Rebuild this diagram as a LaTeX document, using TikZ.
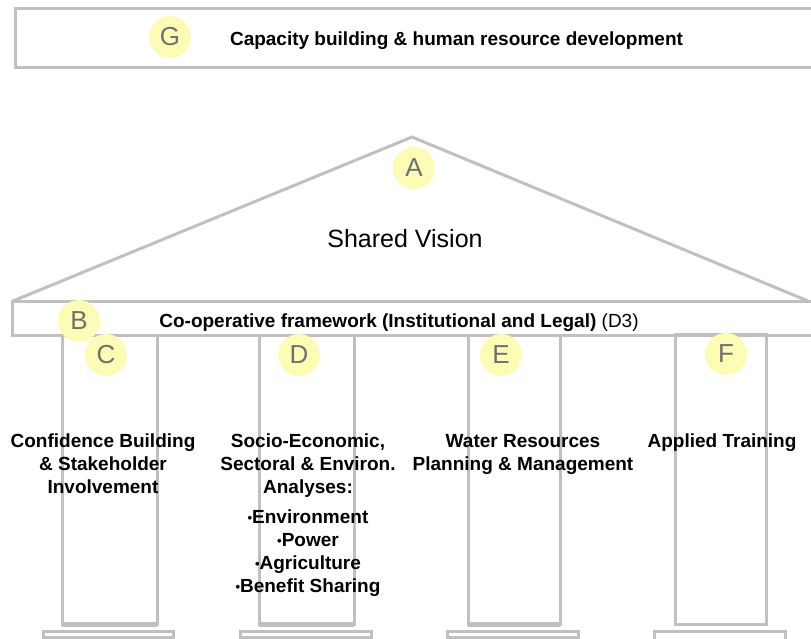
\documentclass[tikz,border=0pt]{standalone}
\usepackage{fontspec}
\setmainfont{Liberation Sans}
\definecolor{linegray}{RGB}{192,192,192}
\definecolor{circfill}{RGB}{252,252,180}
\definecolor{lettergray}{RGB}{112,112,112}
\newcommand{\smbul}{{\fontsize{13}{13}\selectfont\raisebox{1.2pt}{•}}}
\tikzset{
  frame/.style={draw=linegray, line width=3pt},
  band/.style={draw=linegray, line width=5pt},
  badge/.style={circle, fill=circfill, minimum size=42pt, inner sep=0pt, text=lettergray, font=\fontsize{26}{26}\selectfont},
  lbl/.style={font=\bfseries\fontsize{19}{23}\selectfont, align=center, inner sep=0pt, anchor=north},
  onelbl/.style={font=\bfseries\fontsize{19}{23}\selectfont, inner sep=0pt, anchor=base},
}
\begin{document}
\begin{tikzpicture}[x=1pt,y=-1pt]
\useasboundingbox (0,0) rectangle (811,638);
\begin{scope}
\clip (0,0) rectangle (811,638);
% top box G
\draw[frame] (15.5,8.5) rectangle (830,67.5);
% roof
\draw[frame, line join=miter] (13,301) -- (412,137) -- (808,301);
% beam
\draw[frame] (12.5,301) rectangle (830,335);
% pillars C, D, E
\draw[frame] (62,335) -- (62,624) -- (157,624) -- (157,335);
\draw[band] (62,624.5) -- (157,624.5);
\draw[frame] (43,631) rectangle (173,637.5);
\draw[frame] (259,335) -- (259,624) -- (354,624) -- (354,335);
\draw[band] (259,624.5) -- (354,624.5);
\draw[frame] (240.5,631) rectangle (371.5,637.5);
\draw[frame] (468,335) -- (468,624) -- (560,624) -- (560,335);
\draw[band] (468,624.5) -- (560,624.5);
\draw[frame] (447.5,631) rectangle (578,637.5);
% pillar F
\draw[frame] (675,334) rectangle (766,624);
\draw[frame] (654.5,631.5) rectangle (785.5,645);
\end{scope}
% badges
\node[badge] (A) at (414,168) {A};
\node[badge] (B) at (79,321) {B};
\node[badge] (C) at (106,355) {C};
\node[badge] (D) at (299,355) {D};
\node[badge] (E) at (501,355) {E};
\node[badge] (F) at (726,354) {F};
\node[badge] (G) at (170,37) {G};
% texts
\node[onelbl] (gtext) at (456.5,45) {Capacity building \& human resource development};
\node[font=\fontsize{25}{25}\selectfont, inner sep=0pt, anchor=base] (vision) at (405,247) {Shared Vision};
\node[onelbl] (btext) at (399,327) {Co-operative framework (Institutional and Legal) {\mdseries (D3)}};
\node[lbl] (ctext) at (103,434) {Confidence Building\\\& Stakeholder\\Involvement};
\node[lbl] (dtext) at (308,434) {Socio-Economic,\\Sectoral \& Environ.\\Analyses:\\[7pt]\smbul Environment\\\smbul Power\\\smbul Agriculture\\\smbul Benefit Sharing};
\node[lbl] (etext) at (523,434) {Water Resources\\Planning \& Management};
\node[lbl] (ftext) at (722,434) {Applied Training};
\end{tikzpicture}
\end{document}
